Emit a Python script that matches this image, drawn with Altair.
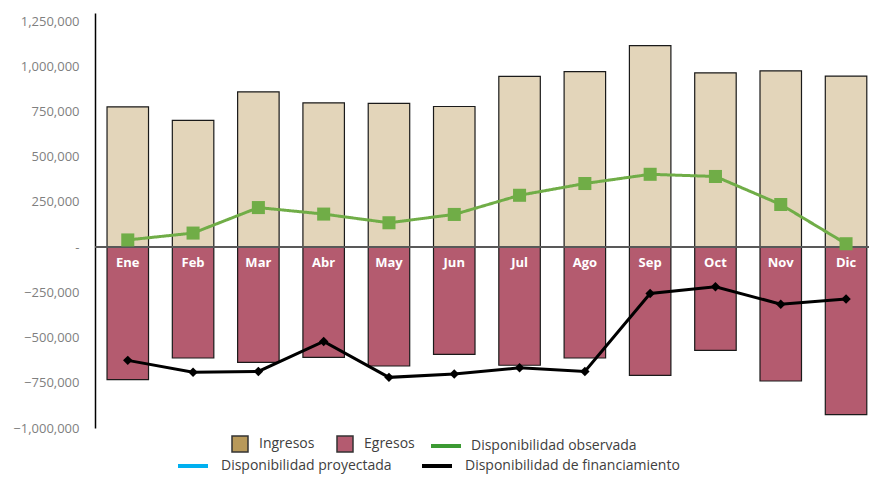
import altair as alt
import pandas as pd

meses = ["Ene", "Feb", "Mar", "Abr", "May", "Jun", "Jul", "Ago", "Sep", "Oct", "Nov", "Dic"]
ingresos = [776000, 701000, 859000, 798000, 795000, 778000, 945000, 971000, 1115000, 964000, 975000, 946000]
egresos = [-733000, -613000, -637000, -609000, -657000, -593000, -653000, -613000, -709000, -571000, -740000, -926000]
observada = [40000, 78000, 219000, 183000, 135000, 181000, 287000, 352000, 403000, 391000, 236000, 19000]
financiamiento = [-626000, -692000, -687000, -521000, -720000, -702000, -667000, -688000, -256000, -219000, -315000, -286000]
y_ticks = [-1000000, -750000, -500000, -250000, 0, 250000, 500000, 750000, 1000000, 1250000]

S_ING = "Ingresos"
S_EGR = "Egresos"
S_OBS = "Disponibilidad observada"
S_PRO = "Disponibilidad proyectada"
S_FIN = "Disponibilidad de financiamiento"

bars_df = pd.DataFrame(
    {"mes": meses * 2, "serie": [S_ING] * 12 + [S_EGR] * 12, "valor": ingresos + egresos}
)
obs_df = pd.DataFrame({"mes": meses, "serie": S_OBS, "valor": observada})
fin_df = pd.DataFrame({"mes": meses, "serie2": S_FIN, "valor": financiamiento})
lab_df = pd.DataFrame({"mes": meses})

FONT = "Open Sans"
LEG = dict(
    title=None,
    orient="none",
    direction="horizontal",
    labelFont=FONT,
    labelFontSize=14,
    labelColor="#404040",
    labelLimit=400,
)

xenc = alt.X(
    "mes:N",
    sort=meses,
    scale=alt.Scale(paddingInner=0.3645, paddingOuter=0.109, align=0.845),
    axis=None,
)
yscale = alt.Scale(domain=[-1000000, 1295000], nice=False, zero=False)
yaxis = alt.Axis(
    values=y_ticks,
    labelExpr="datum.value == 0 ? '-' : format(datum.value, ',')",
    grid=False,
    ticks=False,
    domainColor="#000000",
    domainWidth=1.5,
    labelColor="#7f7f7f",
    labelFont=FONT,
    labelFontSize=13,
    labelPadding=16,
    title=None,
)

bars = alt.Chart(bars_df).mark_bar(stroke="#1a1a1a", strokeWidth=1.2).encode(
    x=xenc,
    y=alt.Y("valor:Q", scale=yscale, axis=yaxis, stack=None),
    color=alt.Color(
        "serie:N",
        scale=alt.Scale(domain=[S_ING, S_EGR], range=["#e3d5ba", "#b45b6f"]),
        legend=None,
    ),
)

# invisible layer that only carries the legend swatches for the bars
bars_key = alt.Chart(bars_df).mark_point(filled=True, opacity=0, size=1).encode(
    x=xenc,
    y="valor:Q",
    fill=alt.Fill(
        "serie:N",
        scale=alt.Scale(domain=[S_ING, S_EGR], range=["#b8995a", "#b45b70"]),
        legend=alt.Legend(
            **LEG,
            legendX=136,
            legendY=422,
            symbolType="square",
            symbolSize=256,
            symbolOpacity=1,
            symbolStrokeColor="#333333",
            symbolStrokeWidth=1.5,
            labelOffset=10,
            columnPadding=19,
        ),
    ),
)

zero = alt.Chart(lab_df).mark_rule(color="#595959", strokeWidth=1).encode(y=alt.datum(0))

labels = alt.Chart(lab_df).mark_text(
    color="white", font=FONT, fontWeight="bold", fontSize=13, dy=16, baseline="middle"
).encode(x=xenc, y=alt.datum(0), text="mes:N")

obs_line = alt.Chart(obs_df).mark_line(strokeWidth=3, color="#70ad47").encode(
    x=xenc,
    y="valor:Q",
    strokeDash=alt.StrokeDash(
        "serie:N",
        scale=alt.Scale(domain=[S_OBS], range=[[1, 0]]),
        legend=alt.Legend(
            **LEG,
            legendX=334,
            legendY=416,
            symbolType="stroke",
            symbolSize=900,
            symbolStrokeColor="#3c9a33",
            symbolStrokeWidth=4,
            labelOffset=8,
        ),
    ),
)
obs_pts = alt.Chart(obs_df).mark_square(size=170, color="#70ad47", opacity=1).encode(
    x=xenc, y="valor:Q"
)

fin_line = alt.Chart(fin_df).mark_line(strokeWidth=3).encode(
    x=xenc,
    y="valor:Q",
    stroke=alt.Stroke(
        "serie2:N",
        scale=alt.Scale(domain=[S_PRO, S_FIN], range=["#00b0f0", "#000000"]),
        legend=alt.Legend(
            **LEG,
            legendX=81,
            legendY=436,
            symbolType="stroke",
            symbolSize=900,
            symbolStrokeWidth=4,
            labelOffset=11,
            columnPadding=22,
        ),
    ),
)
fin_pts = alt.Chart(fin_df).mark_point(
    shape="diamond", filled=True, color="#000000", size=90, opacity=1
).encode(x=xenc, y="valor:Q")

chart = (
    alt.layer(bars, bars_key, zero, labels, obs_line, obs_pts, fin_line, fin_pts)
    .resolve_legend(fill="independent", strokeDash="independent", stroke="independent")
    .properties(
        width=774,
        height=415,
        autosize=alt.AutoSizeParams(type="none"),
        padding={"left": 87, "top": 5, "right": 0, "bottom": 46},
    )
    .configure_view(stroke=None)
)

chart.save("out.html", embed_options={"renderer": "svg", "actions": False})
